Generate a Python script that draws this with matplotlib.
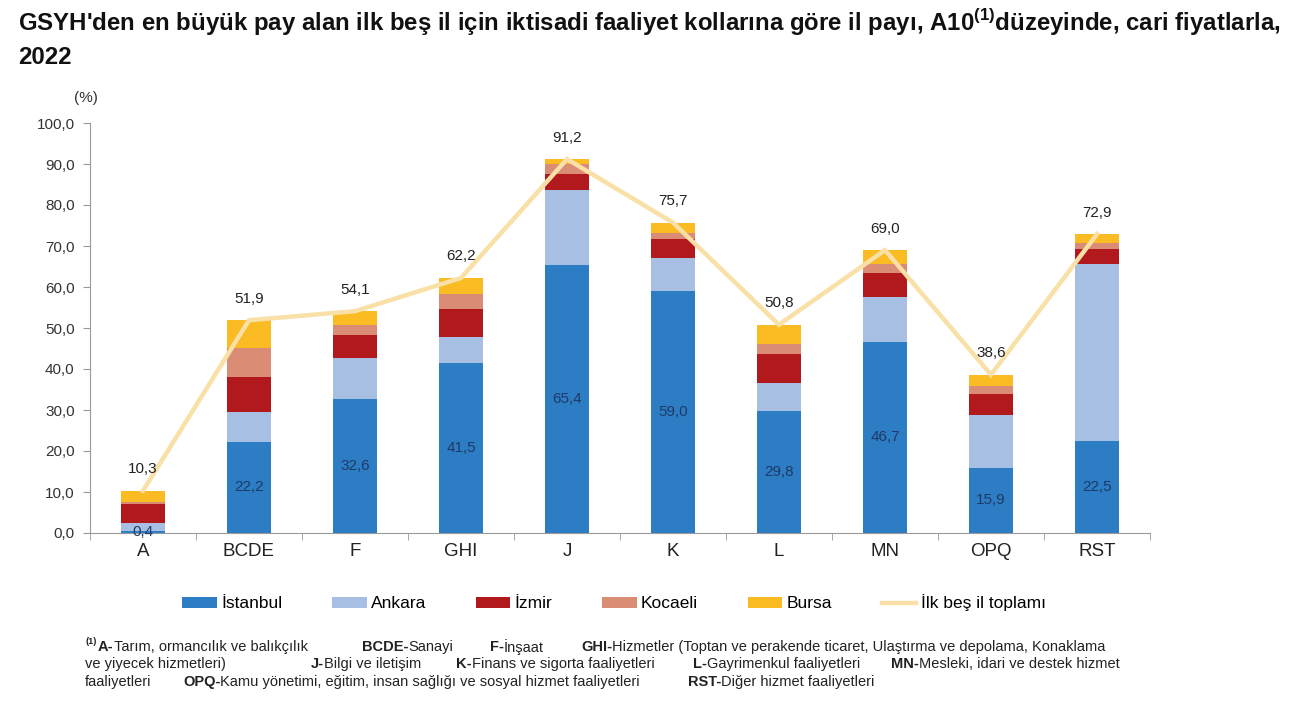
import matplotlib
matplotlib.use("Agg")
import matplotlib.pyplot as plt
from matplotlib.patches import Patch
from matplotlib.lines import Line2D
import numpy as np

plt.rcParams['font.family'] = ['Liberation Sans', 'DejaVu Sans']
plt.rcParams['mathtext.fontset'] = 'custom'
plt.rcParams['mathtext.rm'] = 'Liberation Sans'
plt.rcParams['mathtext.bf'] = 'Liberation Sans:bold'

categories = ["A", "BCDE", "F", "GHI", "J", "K", "L", "MN", "OPQ", "RST"]
istanbul = [0.4, 22.2, 32.6, 41.5, 65.4, 59.0, 29.8, 46.7, 15.9, 22.5]
ankara = [2.0, 7.2, 10.2, 6.3, 18.2, 8.0, 6.9, 10.9, 12.8, 43.2]
izmir = [4.7, 8.7, 5.4, 6.9, 3.9, 4.7, 6.9, 5.7, 5.2, 3.5]
kocaeli = [0.4, 7.1, 2.6, 3.7, 2.4, 1.5, 2.4, 2.4, 2.0, 1.6]
bursa = [2.8, 6.7, 3.3, 3.8, 1.3, 2.5, 4.8, 3.3, 2.7, 2.1]
total = [10.3, 51.9, 54.1, 62.2, 91.2, 75.7, 50.8, 69.0, 38.6, 72.9]
yticks = [0, 10, 20, 30, 40, 50, 60, 70, 80, 90, 100]

series_names = ["İstanbul", "Ankara", "İzmir", "Kocaeli", "Bursa"]
line_name = "İlk beş il toplamı"
colors = ["#2C7DC4", "#A6BFE3", "#B2191C", "#DB8C74", "#FBBB22"]
line_color = "#F8E0A6"

W, H = 1300, 715
fig = plt.figure(figsize=(W / 100, H / 100), dpi=100)
ax = fig.add_axes([90 / W, 1 - 533 / H, (1150 - 90) / W, (533 - 123) / H])

x = np.arange(len(categories))
bottom = np.zeros(len(categories))
for vals, c in zip([istanbul, ankara, izmir, kocaeli, bursa], colors):
    ax.bar(x, vals, width=0.41, bottom=bottom, color=c, zorder=2)
    bottom += np.array(vals)

ax.plot(x, total, color=line_color, lw=3.2, zorder=3, solid_joinstyle='miter')

def fmt(v):
    return f"{v:.1f}".replace(".", ",")

for xi, v in zip(x, istanbul):
    ax.text(xi, v / 2, fmt(v), ha='center', va='center', fontsize=11,
            color="#1F3A66", zorder=4)
for xi, v in zip(x, total):
    ax.annotate(fmt(v), (xi, v), xytext=(0, 15.5), textcoords='offset points',
                ha='center', va='center', fontsize=11, color="#222222", zorder=4)

ax.set_xlim(-0.5, len(categories) - 0.5)
ax.set_ylim(0, 100)
ax.set_yticks(yticks)
ax.set_yticklabels([fmt(v) for v in yticks], fontsize=11, color="#333333")
ax.set_xticks(x)
ax.set_xticklabels(categories, fontsize=13.5, color="#222222")
ax.set_xticks(np.arange(len(categories) + 1) - 0.5, minor=True)
ax.tick_params(axis='x', which='major', length=0, pad=7)
ax.tick_params(axis='x', which='minor', length=5, color="#999999")
ax.tick_params(axis='y', length=5, color="#999999", pad=6)
for s in ['top', 'right']:
    ax.spines[s].set_visible(False)
for s in ['left', 'bottom']:
    ax.spines[s].set_color("#999999")
ax.text(-0.004, 1.06, "(%)", transform=ax.transAxes, ha='center', va='center',
        fontsize=11, color="#333333")

# title
fig.text(18 / W, 1 - 22 / H,
         r"GSYH'den en büyük pay alan ilk beş il için iktisadi faaliyet kollarına göre il payı, A10$^{\mathbf{(1)}}$düzeyinde, cari fiyatlarla,",
         fontsize=17.3, fontweight='bold', va='center', ha='left', color="#111111")
fig.text(18 / W, 1 - 58 / H, "2022", fontsize=17.3, fontweight='bold',
         va='center', ha='left', color="#111111")

# legend
handles = [Patch(facecolor=c, edgecolor='none') for c in colors]
handles.append(Line2D([0], [0], color=line_color, lw=3.2))
fig.legend(handles, series_names + [line_name], loc='center',
           bbox_to_anchor=(614 / W, 1 - 603 / H), ncol=6, frameon=False,
           fontsize=12.5, handlelength=2.0, handleheight=0.6,
           handletextpad=0.25, columnspacing=2.85)

# footnote
renderer = fig.canvas.get_renderer()
fs = 10.5
def seg_line(y, segs):
    for xs, parts in segs:
        cur = xs
        for txt, bold in parts:
            t = fig.text(cur / W, 1 - y / H, txt, fontsize=fs,
                         fontweight='bold' if bold else 'normal',
                         va='center', ha='left', color="#222222")
            bb = t.get_window_extent(renderer)
            cur = bb.x1

fig.text(85 / W, 1 - 642 / H, "(1)", fontsize=6.5, fontweight='bold',
         va='center', ha='left', color="#222222")
seg_line(647, [
    (98, [("A-", True), ("Tarım, ormancılık ve balıkçılık", False)]),
    (362, [("BCDE-", True), ("Sanayi", False)]),
    (490, [("F-", True), ("İnşaat", False)]),
    (581, [("GHI-", True), ("Hizmetler (Toptan ve perakende ticaret, Ulaştırma ve depolama, Konaklama", False)]),
])
seg_line(664, [
    (85, [("ve yiyecek hizmetleri)", False)]),
    (311, [("J-", True), ("Bilgi ve iletişim", False)]),
    (456, [("K-", True), ("Finans ve sigorta faaliyetleri", False)]),
    (693, [("L-", True), ("Gayrimenkul faaliyetleri", False)]),
    (891, [("MN-", True), ("Mesleki, idari ve destek hizmet", False)]),
])
seg_line(682, [
    (85, [("faaliyetleri", False)]),
    (183, [("OPQ-", True), ("Kamu yönetimi, eğitim, insan sağlığı ve sosyal hizmet faaliyetleri", False)]),
    (688, [("RST-", True), ("Diğer hizmet faaliyetleri", False)]),
])

fig.savefig("out.png", dpi=100)
